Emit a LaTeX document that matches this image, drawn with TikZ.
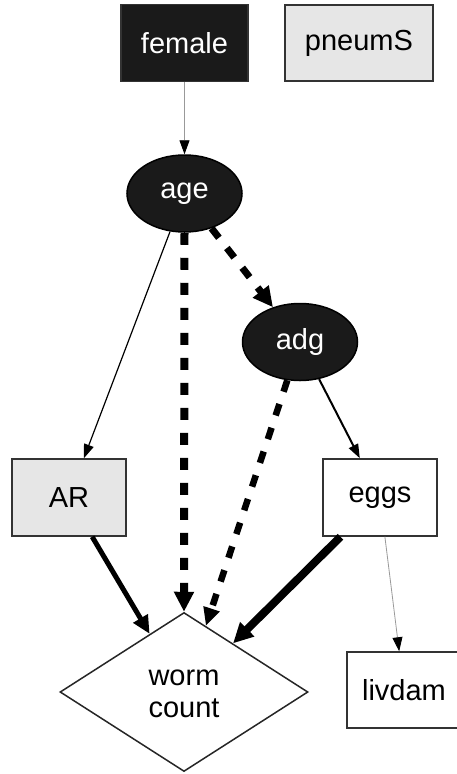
\documentclass[tikz,border=0pt]{standalone}
\usepackage{fontspec}
\setmainfont{Liberation Sans}
\usetikzlibrary{shapes.geometric,arrows.meta}
\definecolor{nodeblack}{HTML}{1A1A1A}
\definecolor{nodegray}{HTML}{E6E6E6}
\definecolor{edgegray}{HTML}{999999}
\begin{document}
\begin{tikzpicture}[x=1pt,y=-1pt,
  every node/.style={font=\fontsize{29}{32}\selectfont, inner sep=0pt},
  boxnode/.style={rectangle, draw=black!80, line width=1.5pt, minimum width=114pt, minimum height=77pt},
  darkbox/.style={boxnode, fill=nodeblack, text=white},
  graybox/.style={boxnode, fill=nodegray},
  whitebox/.style={boxnode, fill=white},
  darkell/.style={ellipse, draw=black, fill=nodeblack, text=white, line width=1.5pt, minimum width=115pt, minimum height=77pt},
  dia/.style={diamond, draw=black!85, fill=white, line width=1.5pt, minimum width=248pt, minimum height=159pt},
  tipS/.style={-{Triangle[length=14pt,width=10pt,color=black]}},
  tipM/.style={-{Triangle[length=18pt,width=16pt,color=black]}},
  tipL/.style={-{Triangle[length=20pt,width=19pt,color=black]}},
  thinedge/.style={tipS, draw=edgegray, line width=0.9pt},
  lightedge/.style={tipS, draw=black, line width=1.2pt},
  midedge/.style={tipS, draw=black, line width=2pt},
  heavyedge/.style={tipM, draw=black, line width=5pt},
  hugeedge/.style={tipL, draw=black, line width=8pt},
  dashmid/.style={tipM, draw=black, line width=6.5pt, dash pattern=on 12pt off 13pt},
  dashbig/.style={tipL, draw=black, line width=8pt, dash pattern=on 12pt off 13pt},
]
\useasboundingbox (0,0) rectangle (457,774);

\node[darkbox, minimum width=127pt] (female) at (184.5,43) {female};
\node[graybox, minimum width=148pt, minimum height=76pt] (pneumS) at (359,43) {pneumS};
\node[darkell] (age) at (184.5,193.5) {age};
\node[darkell] (adg) at (300,342) {adg};
\node[graybox] (AR) at (69,497.5) {AR};
\node[whitebox] (eggs) at (380,497.5) {eggs};
\node[dia] (worm) at (184,692) {};
\node[align=center] (wormtxt) at (184,694) {worm\\count};
\node[whitebox, minimum height=76pt] (livdam) at (404,690) {livdam};

\draw[thinedge] (female) -- (age);
\draw[lightedge] (age) -- (AR);
\draw[dashbig] (age.south) -- (worm.north);
\draw[dashbig, line width=7pt] (age) -- (adg);
\draw[dashmid] (adg) -- (worm);
\draw[midedge] (adg) -- (eggs);
\draw[heavyedge] (AR) -- (worm);
\draw[hugeedge] (eggs) -- (worm);
\draw[thinedge, line width=0.8pt] (eggs) -- (livdam);
\end{tikzpicture}
\end{document}
